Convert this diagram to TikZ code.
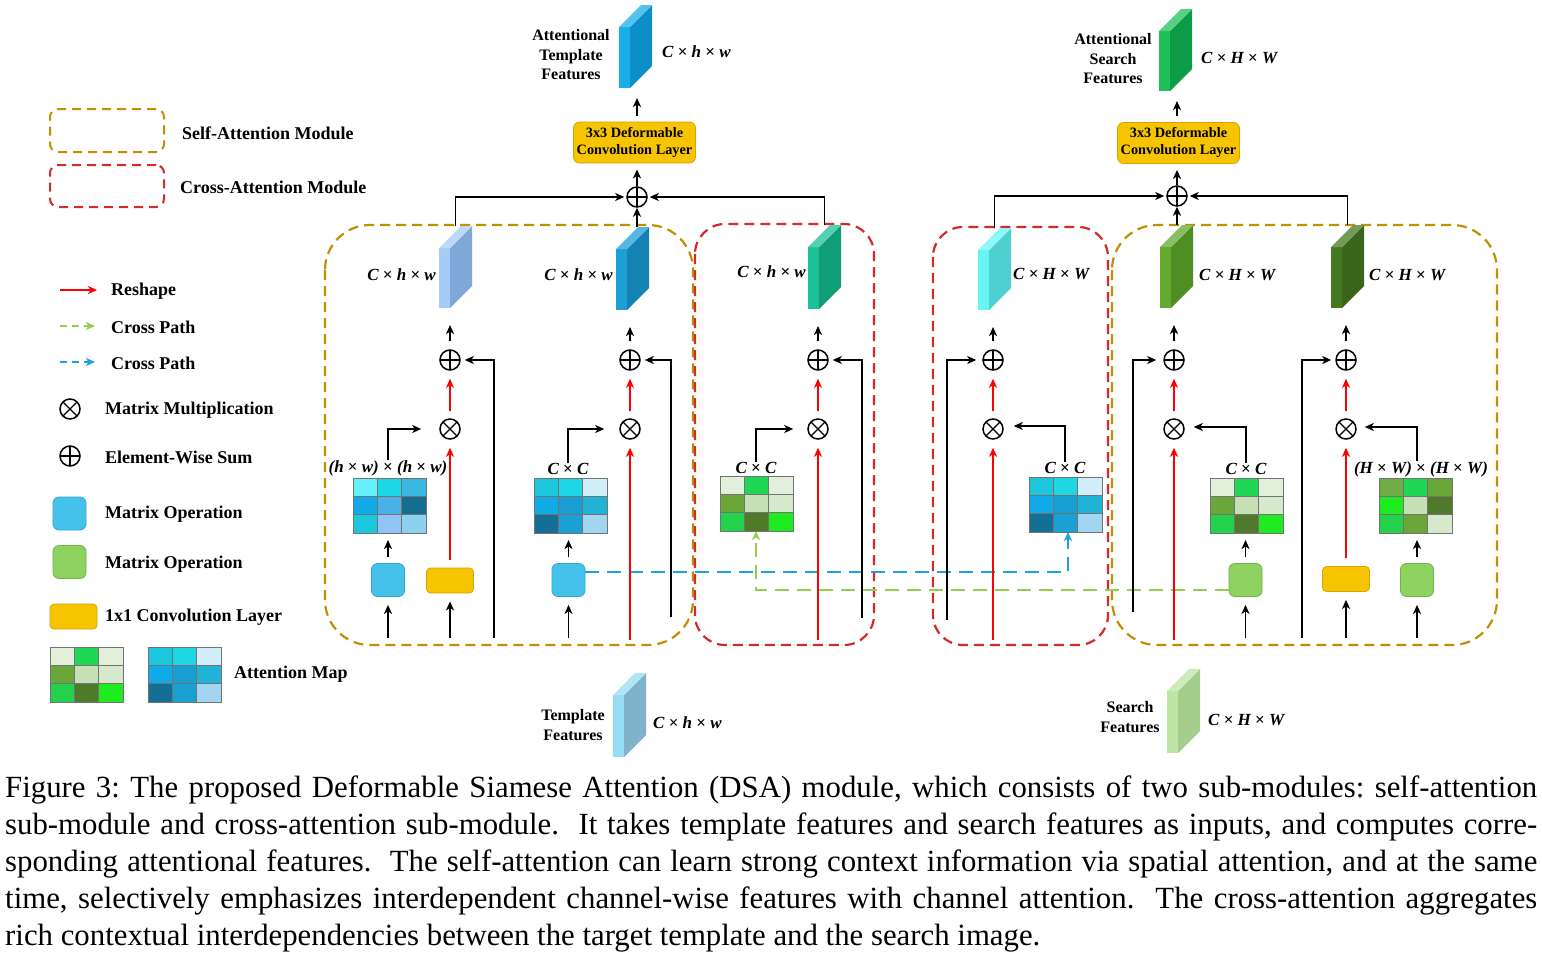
\documentclass[tikz,border=0pt]{standalone}
\usepackage{fontspec}
\setmainfont{Liberation Serif}
\usetikzlibrary{arrows.meta,fit,calc}
% colours
\definecolor{gold}{HTML}{BF9000}
\definecolor{rbox}{HTML}{D42A2A}
\definecolor{gDash}{HTML}{92D050}
\definecolor{bDash}{HTML}{1BA1E2}
\definecolor{bOp}{HTML}{45C2EC}
\definecolor{bOpD}{HTML}{36A6D0}
\definecolor{gOp}{HTML}{8ED35F}
\definecolor{gOpD}{HTML}{74B048}
\definecolor{yF}{HTML}{F6C400}
\definecolor{yD}{HTML}{D9A400}
% map colours
\definecolor{gA}{HTML}{E2EFDA}
\definecolor{gB}{HTML}{1FD655}
\definecolor{gC}{HTML}{6AA63A}
\definecolor{gD}{HTML}{C5E0B4}
\definecolor{gE}{HTML}{D6E9CC}
\definecolor{gF}{HTML}{22D24A}
\definecolor{gG}{HTML}{4E7A2A}
\definecolor{gH}{HTML}{1EEC1E}
\definecolor{gI}{HTML}{70AD47}
\definecolor{bA}{HTML}{1CC6DC}
\definecolor{bB}{HTML}{1DD8E4}
\definecolor{bC}{HTML}{D2EEF8}
\definecolor{bD}{HTML}{10AAE8}
\definecolor{bE}{HTML}{199ED4}
\definecolor{bF}{HTML}{22B2D6}
\definecolor{bG}{HTML}{136F96}
\definecolor{bH}{HTML}{1AA0D2}
\definecolor{bI}{HTML}{A2D6F0}
\definecolor{bJ}{HTML}{66F0F8}
\definecolor{bK}{HTML}{3BB8E0}
\definecolor{bL}{HTML}{4AB0E8}
\definecolor{bM}{HTML}{156E90}
\definecolor{bN}{HTML}{90C4F8}
\definecolor{bO}{HTML}{8ED0F0}
% slab colours
\definecolor{sAf}{HTML}{A4CCF6}\definecolor{sAs}{HTML}{7FA7D8}
\definecolor{sBf}{HTML}{1E9FD4}\definecolor{sBs}{HTML}{1483B4}
\definecolor{sCf}{HTML}{1CC199}\definecolor{sCs}{HTML}{0F9E78}
\definecolor{sDf}{HTML}{66F5F5}\definecolor{sDs}{HTML}{4FD0D0}
\definecolor{sEf}{HTML}{62A92E}\definecolor{sEs}{HTML}{4F8E24}
\definecolor{sFf}{HTML}{45781F}\definecolor{sFs}{HTML}{3A651A}
\definecolor{oTf}{HTML}{1AAEE8}\definecolor{oTs}{HTML}{0C8FC8}
\definecolor{oSf}{HTML}{1FC05A}\definecolor{oSs}{HTML}{0E9B48}
\definecolor{iTf}{HTML}{96DCF2}\definecolor{iTs}{HTML}{7FB3CB}
\definecolor{iSf}{HTML}{BEE4A6}\definecolor{iSs}{HTML}{A4CC8A}

\newcommand\slab[6]{%
  \fill[#5] (#2,#3+22) rectangle (#2+11,#4);
  \fill[#6] (#2+11,#3+22) -- (#2+33,#3) -- (#2+33,#4-22) -- (#2+11,#4) -- cycle;
  \fill[#5!75!white] (#2,#3+22) -- (#2+22,#3) -- (#2+33,#3) -- (#2+11,#3+22) -- cycle;
  \node[inner sep=0pt, outer sep=0pt, fit={(#2,#3) (#2+33,#4)}] (#1) {};
}
\newcommand\amap[4]{%
  \foreach \c [count=\i from 0] in {#4} {
    \pgfmathtruncatemacro\cc{mod(\i,3)}
    \pgfmathtruncatemacro\rr{div(\i,3)}
    \fill[\c] ({#2+\cc*24.333},{#3+\rr*18.333}) rectangle ++(24.333,18.333);
  }
  \draw[line width=0.9pt, black!55]
    (#2+24.333,#3) -- (#2+24.333,#3+55) (#2+48.667,#3) -- (#2+48.667,#3+55)
    (#2,#3+18.333) -- (#2+73,#3+18.333) (#2,#3+36.667) -- (#2+73,#3+36.667)
    (#2,#3) rectangle (#2+73,#3+55);
  \node[inner sep=0pt, outer sep=0pt, fit={(#2,#3) (#2+73,#3+55)}] (#1) {};
}
\newcommand\tms{{\upshape ×}}

\begin{document}
\begin{tikzpicture}[x=1pt,y=-1pt,
  arr/.style={-{Stealth[length=9pt,width=8pt,inset=2.5pt]}, line width=1.8pt, black},
  redarr/.style={arr, red},
  gdash/.style={-{Stealth[length=9pt,width=8pt,inset=2.5pt]}, line width=1.8pt, gDash, dash pattern=on 14pt off 8pt},
  bdash/.style={-{Stealth[length=9pt,width=8pt,inset=2.5pt]}, line width=1.8pt, bDash, dash pattern=on 14pt off 8pt},
  opsum/.style={circle, draw, line width=1.5pt, minimum size=20pt, inner sep=0pt,
    path picture={\draw[line width=1.3pt] (path picture bounding box.north) -- (path picture bounding box.south)
      (path picture bounding box.west) -- (path picture bounding box.east);}},
  opmul/.style={circle, draw, line width=1.5pt, minimum size=20pt, inner sep=0pt,
    path picture={\draw[line width=1.3pt] (path picture bounding box.north west) -- (path picture bounding box.south east)
      (path picture bounding box.north east) -- (path picture bounding box.south west);}},
  blueop/.style={draw=bOpD, fill=bOp, rounded corners=6pt, minimum size=33pt, inner sep=0pt, line width=0.8pt},
  greenop/.style={draw=gOpD, fill=gOp, rounded corners=6pt, minimum size=33pt, inner sep=0pt, line width=0.8pt},
  conv/.style={draw=yD, fill=yF, rounded corners=4pt, minimum width=47pt, minimum height=25pt, inner sep=0pt, line width=0.8pt},
  deform/.style={draw=yD, fill=yF, rounded corners=6pt, minimum width=122pt, minimum height=41pt, inner sep=0pt,
    line width=0.8pt, align=center, font=\bfseries\fontsize{14.3}{17}\selectfont},
  lbl/.style={font=\bfseries\fontsize{18}{21}\selectfont, anchor=west, inner sep=0pt},
  tlbl/.style={font=\bfseries\fontsize{16}{19.5}\selectfont, align=center, inner sep=0pt},
  mlbl/.style={font=\bfseries\itshape\fontsize{17}{20}\selectfont, inner sep=0pt},
  goldbox/.style={draw=gold, line width=2.2pt, dash pattern=on 10pt off 6pt, rounded corners=45pt},
  redbox/.style={draw=rbox, line width=2.2pt, dash pattern=on 10pt off 6pt, rounded corners=30pt}
]
\fill[white] (0,0) rectangle (1542,953);
\useasboundingbox (0,0) rectangle (1542,953);

% ---------------- legend ----------------
\node[draw=gold, line width=2pt, dash pattern=on 9pt off 6pt, rounded corners=8pt, minimum width=114pt, minimum height=43pt, inner sep=0pt] (legSA) at (107,130.5) {};
\node[lbl] (legSAt) at (182,133) {Self-Attention Module};
\node[draw=rbox, line width=2pt, dash pattern=on 9pt off 6pt, rounded corners=8pt, minimum width=114pt, minimum height=42pt, inner sep=0pt] (legCA) at (107,186) {};
\node[lbl] (legCAt) at (180,187) {Cross-Attention Module};
\coordinate (lr0) at (60,290); \coordinate (lr1) at (97,290);
\draw[redarr] (lr0) -- (lr1);
\node[lbl] (legRt) at (111,291) {Reshape};
\coordinate (lg0) at (60,326); \coordinate (lg1) at (95,326);
\draw[gdash, dash pattern=on 7pt off 5pt] (lg0) -- (lg1);
\node[lbl] (legGt) at (111,327) {Cross Path};
\coordinate (lb0) at (60,362); \coordinate (lb1) at (95,362);
\draw[bdash, dash pattern=on 7pt off 5pt] (lb0) -- (lb1);
\node[lbl] (legBt) at (111,363) {Cross Path};
\node[opmul] (legM) at (70,409) {};
\node[lbl] (legMt) at (105,410) {Matrix Multiplication};
\node[opsum] (legS) at (70,456) {};
\node[lbl] (legSt) at (105,457) {Element-Wise Sum};
\node[blueop] (legB) at (69.5,513.5) {};
\node[lbl] (legBot) at (105,514) {Matrix Operation};
\node[greenop] (legG) at (69.5,562) {};
\node[lbl] (legGot) at (105,564) {Matrix Operation};
\node[conv] (legC) at (73.5,616.5) {};
\node[lbl] (legCt) at (105,617) {1x1 Convolution Layer};
\amap{legMapG}{50}{647}{gA,gB,gA,gC,gD,gE,gF,gG,gH}
\amap{legMapB}{148}{647}{bA,bB,bC,bD,bE,bF,bG,bH,bI}
\node[lbl] (legAt) at (234,674) {Attention Map};

% ---------------- module boxes ----------------
\draw[goldbox] (325,225) rectangle (693,645);
\draw[redbox] (695,224) rectangle (874,645);
\draw[redbox] (933,227) rectangle (1108,645);
\draw[goldbox] (1112,225) rectangle (1497,645);

% ---------------- cross paths ----------------
\node[blueop] (opB) at (568.5,580) {};
\node[greenop] (opE) at (1245.5,580) {};
\amap{mapC}{720}{476}{gA,gB,gA,gC,gD,gE,gF,gG,gH}
\amap{mapD}{1029}{477}{bA,bB,bC,bD,bE,bF,bG,bH,bI}
\coordinate (bdy) at (0,572);
\coordinate (gdy) at (0,590);
\draw[bdash] (opB.east |- bdy) -| ([xshift=2.5pt]mapD.south);
\draw[gdash] (opE.west |- gdy) -| ([xshift=-0.5pt]mapC.south);

% ---------------- column A ----------------
\slab{A1}{439}{226}{308}{sAf}{sAs}
\node[mlbl, anchor=east] (lA1) at (436,275) {C \tms{} h \tms{} w};
\node[opsum] (pA) at (450,360) {};
\node[opmul] (mA) at (450,429) {};
\amap{mapA}{353}{478}{bJ,bB,bK,bD,bL,bM,bA,bN,bO}
\node[mlbl] (labA) at (388,468) {(h \tms{} w) \tms{} (h \tms{} w)};
\node[blueop] (opA) at (388,580) {};
\node[conv] (convA) at (450,580.5) {};
\coordinate (iA1) at (388,638); \coordinate (iA2) at (450,638); \coordinate (iA3) at (494,638);
\draw[arr, shorten >=8pt] (iA1) -- (opA.south);
\draw[arr, shorten >=8pt] (iA2) -- (convA.south);
\draw[arr, shorten <=6pt, shorten >=7pt] (opA.north) -- (opA.north |- mapA.south);
\draw[arr, shorten >=18pt] (labA.north) |- (mA.west);
\draw[redarr, shorten <=8pt, shorten >=8pt] (convA.north) -- (mA.south);
\draw[redarr, shorten <=7pt, shorten >=8pt] (mA.north) -- (pA.south);
\draw[arr, shorten >=4pt] (iA3) |- (pA.east);
\draw[arr, shorten <=8pt, shorten >=17pt] (pA.north) -- (pA.north |- A1.south);

% ---------------- column B ----------------
\slab{B1}{616}{227}{310}{sBf}{sBs}
\node[mlbl, anchor=east] (lB1) at (613,275) {C \tms{} h \tms{} w};
\node[opsum] (pB) at (630,360) {};
\node[opmul] (mB) at (630,429) {};
\amap{mapB}{534}{478}{bA,bB,bC,bD,bE,bF,bG,bH,bI}
\node[mlbl] (labB) at (568,469) {C \tms{} C};
\coordinate (iB1) at (568.5,638); \coordinate (iB2) at (630,640); \coordinate (iB3) at (671,617);
\draw[arr, shorten >=8pt] (iB1) -- (opB.south);
\draw[arr, shorten <=6pt, shorten >=7pt] (opB.north) -- (opB.north |- mapB.south);
\draw[arr, shorten >=15pt] (labB.north) |- (mB.west);
\draw[redarr, shorten >=8pt] (iB2) -- (mB.south);
\draw[redarr, shorten <=7pt, shorten >=8pt] (mB.north) -- (pB.south);
\draw[arr, shorten >=4pt] (iB3) |- (pB.east);
\draw[arr, shorten <=8pt, shorten >=17pt] (pB.north) -- (pB.north |- B1.south);

% ---------------- column C ----------------
\slab{C1}{808}{225}{309}{sCf}{sCs}
\node[mlbl, anchor=east] (lC1) at (806,272) {C \tms{} h \tms{} w};
\node[opsum] (pC) at (818,360) {};
\node[opmul] (mC) at (818,429) {};
\node[mlbl] (labC) at (756,468) {C \tms{} C};
\coordinate (iC2) at (818,640); \coordinate (iC3) at (862,618);
\draw[arr, shorten >=14pt] (labC.north) |- (mC.west);
\draw[redarr, shorten >=8pt] (iC2) -- (mC.south);
\draw[redarr, shorten <=7pt, shorten >=8pt] (mC.north) -- (pC.south);
\draw[arr, shorten >=4pt] (iC3) |- (pC.east);
\draw[arr, shorten <=8pt, shorten >=17pt] (pC.north) -- (pC.north |- C1.south);

% ---------------- column D ----------------
\slab{D1}{978}{228}{310}{sDf}{sDs}
\node[mlbl, anchor=west] (lD1) at (1013,274) {C \tms{} H \tms{} W};
\node[opsum] (pD) at (993,360) {};
\node[opmul] (mD) at (993,429) {};
\node[mlbl] (labD) at (1065,468) {C \tms{} C};
\coordinate (iD2) at (993,640); \coordinate (iD3) at (947,620);
\draw[arr, shorten >=10pt] (labD.north) |- ([yshift=3pt]mD.east);
\draw[redarr, shorten >=8pt] (iD2) -- (mD.south);
\draw[redarr, shorten <=7pt, shorten >=8pt] (mD.north) -- (pD.south);
\draw[arr, shorten >=6pt] (iD3) |- (pD.west);
\draw[arr, shorten <=8pt, shorten >=17pt] (pD.north) -- (pD.north |- D1.south);

% ---------------- column E ----------------
\slab{E1}{1160}{225}{308}{sEf}{sEs}
\node[mlbl, anchor=west] (lE1) at (1199,275) {C \tms{} H \tms{} W};
\node[opsum] (pE) at (1174,360) {};
\node[opmul] (mE) at (1174,429) {};
\amap{mapE}{1210}{478}{gA,gB,gA,gC,gD,gE,gF,gG,gH}
\node[mlbl] (labE) at (1246,469) {C \tms{} C};
\coordinate (iE1) at (1245.5,638); \coordinate (iE2) at (1174,640); \coordinate (iE3) at (1133,612);
\draw[arr, shorten >=8pt] (iE1) -- (opE.south);
\draw[arr, shorten <=6pt, shorten >=7pt] (opE.north) -- (opE.north |- mapE.south);
\draw[arr, shorten >=9pt] (labE.north) |- ([yshift=2pt]mE.east);
\draw[redarr, shorten >=8pt] (iE2) -- (mE.south);
\draw[redarr, shorten <=7pt, shorten >=8pt] (mE.north) -- (pE.south);
\draw[arr, shorten >=7pt] (iE3) |- (pE.west);
\draw[arr, shorten <=8pt, shorten >=17pt] (pE.north) -- (pE.north |- E1.south);

% ---------------- column F ----------------
\slab{F1}{1331}{225}{308}{sFf}{sFs}
\node[mlbl, anchor=west] (lF1) at (1369,275) {C \tms{} H \tms{} W};
\node[opsum] (pF) at (1346,360) {};
\node[opmul] (mF) at (1346,429) {};
\node[conv] (convF) at (1346,579) {};
\node[greenop] (opF) at (1417,580) {};
\amap{mapF}{1379}{478}{gI,gB,gC,gH,gD,gG,gF,gC,gE}
\node[mlbl] (labF) at (1421,469) {(H \tms{} W) \tms{} (H \tms{} W)};
\coordinate (iF1) at (1346,638); \coordinate (iF2) at (1417,638); \coordinate (iF3) at (1302,638);
\draw[arr, shorten >=8pt] (iF1) -- (convF.south);
\draw[arr, shorten >=8pt] (iF2) -- (opF.south);
\draw[arr, shorten <=6pt, shorten >=7pt] (opF.north) -- (opF.north |- mapF.south);
\draw[arr, shorten >=8pt] (opF.north |- labF.north) |- ([yshift=2pt]mF.east);
\draw[redarr, shorten <=8pt, shorten >=8pt] (convF.north) -- (mF.south);
\draw[redarr, shorten <=7pt, shorten >=8pt] (mF.north) -- (pF.south);
\draw[arr, shorten >=4pt] (iF3) |- (pF.west);
\draw[arr, shorten <=8pt, shorten >=17pt] (pF.north) -- (pF.north |- F1.south);

% ---------------- top: template ----------------
\node[opsum] (tsum) at (637,197) {};
\node[deform] (defT) at (634.5,142.5) {3x3 Deformable\\Convolution Layer};
\slab{outT}{619}{5}{88}{oTf}{oTs}
\node[tlbl] (outTl) at (571,55) {Attentional\\Template\\Features};
\node[mlbl, anchor=west] (outTm) at (662,52) {C \tms{} h \tms{} w};
\draw[arr, shorten >=6pt] (tsum.north) -- (tsum.north |- defT.south);
\draw[arr, shorten <=6pt, shorten >=10pt] (tsum.north |- defT.north) -- (tsum.north |- outT.south);
\draw[arr, shorten >=2pt] (A1.north) |- (tsum.west);
\draw[arr] (tsum.south |- B1.north) -- (tsum.south);
\draw[arr, shorten >=2pt] (C1.north) |- (tsum.east);

% ---------------- top: search ----------------
\node[opsum] (ssum) at (1177,196) {};
\node[deform] (defS) at (1178.5,143) {3x3 Deformable\\Convolution Layer};
\slab{outS}{1159}{9}{91}{oSf}{oSs}
\node[tlbl] (outSl) at (1113,59) {Attentional\\Search\\Features};
\node[mlbl, anchor=west] (outSm) at (1201,58) {C \tms{} H \tms{} W};
\draw[arr, shorten >=6pt] (ssum.north) -- (ssum.north |- defS.south);
\draw[arr, shorten <=6pt, shorten >=10pt] (ssum.north |- defS.north) -- (ssum.north |- outS.south);
\draw[arr, shorten >=2pt] (D1.north) |- (ssum.west);
\draw[arr] (ssum.south |- E1.north) -- (ssum.south);
\draw[arr, shorten >=2pt] (F1.north) |- (ssum.east);

% ---------------- bottom inputs ----------------
\slab{inT}{613}{673}{757}{iTf}{iTs}
\node[tlbl] (inTl) at (573,725) {Template\\Features};
\node[mlbl, anchor=west] (inTm) at (653,723) {C \tms{} h \tms{} w};
\slab{inS}{1167}{669}{753}{iSf}{iSs}
\node[tlbl] (inSl) at (1130,717) {Search\\Features};
\node[mlbl, anchor=west] (inSm) at (1208,720) {C \tms{} H \tms{} W};

% ---------------- caption ----------------
\node[anchor=north west, inner sep=0pt, align=left, font=\fontsize{30.8}{37}\selectfont\frenchspacing] (cap) at (5,776) {%
\makebox[1532pt][s]{Figure 3: The proposed Deformable Siamese Attention (DSA) module, which consists of two sub-modules: self-attention}\\
\makebox[1532pt][s]{sub-module and cross-attention sub-module.\ \ It takes template features and search features as inputs, and computes corre-}\\
\makebox[1532pt][s]{sponding attentional features.\ \ The self-attention can learn strong context information via spatial attention, and at the same}\\
\makebox[1532pt][s]{time, selectively emphasizes interdependent channel-wise features with channel attention.\ \ The cross-attention aggregates}\\
rich contextual interdependencies between the target template and the search image.};
\end{tikzpicture}
\end{document}
